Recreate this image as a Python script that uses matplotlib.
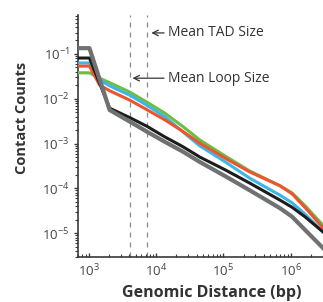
import numpy as np
import matplotlib
matplotlib.use("Agg")
import matplotlib.pyplot as plt
from matplotlib.ticker import LogLocator, NullFormatter

plt.rcParams['font.family'] = ['Open Sans', 'DejaVu Sans']
plt.rcParams['mathtext.fontset'] = 'custom'
plt.rcParams['mathtext.rm'] = 'Open Sans'
plt.rcParams['mathtext.it'] = 'Open Sans:italic'
plt.rcParams['mathtext.bf'] = 'Open Sans:bold'

# log10 of genomic distance (bp)
log_dist = [2.84, 3.01, 3.16, 3.31, 3.61, 3.86, 4.13, 4.40, 4.65, 5.02, 5.39, 5.84, 6.02, 6.21, 6.48]
# log10 of contact counts
gray_vals  = [-0.87, -0.87, -1.56, -2.25, -2.51, -2.73, -2.96, -3.18, -3.41, -3.72, -4.04, -4.44, -4.63, -4.92, -5.33]
black_vals = [-1.09, -1.09, -1.65, -2.21, -2.42, -2.61, -2.85, -3.07, -3.30, -3.58, -3.88, -4.26, -4.42, -4.63, -4.97]
red_vals   = [-1.27, -1.27, -1.69, -1.82, -2.03, -2.24, -2.47, -2.73, -2.99, -3.32, -3.63, -3.94, -4.12, -4.42, -4.88]
blue_vals  = [-1.20, -1.20, -1.58, -1.71, -1.92, -2.14, -2.40, -2.74, -3.05, -3.40, -3.77, -4.15, -4.32, -4.57, -4.97]
green_vals = [-1.42, -1.42, -1.54, -1.64, -1.85, -2.07, -2.32, -2.62, -2.92, -3.27, -3.61, -3.94, -4.10, -4.38, -4.82]

mean_loop_size = 4.1e3
mean_tad_size = 7.3e3

x = 10 ** np.array(log_dist)

fig = plt.figure(figsize=(3.23, 3.02), dpi=100)
ax = fig.add_axes([78/323, 45/302, 1 - 78/323, (257-15)/302])

series = [
    (green_vals, '#6dbd45', 2.2),
    (blue_vals, '#3bb6e6', 2.2),
    (red_vals, '#ee5430', 2.2),
    (black_vals, '#1c1c1c', 2.2),
    (gray_vals, '#707173', 3.0),
]
for vals, col, lw in series:
    ax.plot(x, 10 ** np.array(vals), color=col, lw=lw, solid_joinstyle='round', zorder=3)

for v in (mean_loop_size, mean_tad_size):
    ax.axvline(v, color='#8a8a8a', lw=0.9, ls=(0, (4, 4)), zorder=1)

ax.set_xscale('log')
ax.set_yscale('log')
ax.set_xlim(10 ** 2.84, 10 ** 6.48)
ax.set_ylim(10 ** -5.53, 10 ** -0.13)

for s in ('top', 'right'):
    ax.spines[s].set_visible(False)
for s in ('left', 'bottom'):
    ax.spines[s].set_color('#3a3a3a')
    ax.spines[s].set_linewidth(1.2)

ax.xaxis.set_major_locator(LogLocator(base=10, numticks=10))
ax.yaxis.set_major_locator(LogLocator(base=10, numticks=10))
ax.xaxis.set_minor_locator(LogLocator(base=10, subs=np.arange(2, 10), numticks=10))
ax.yaxis.set_minor_locator(LogLocator(base=10, subs=np.arange(2, 10), numticks=10))
ax.xaxis.set_minor_formatter(NullFormatter())
ax.yaxis.set_minor_formatter(NullFormatter())

ax.tick_params(axis='x', which='major', direction='in', length=3, width=1, colors='#3a3a3a',
               labelcolor='#444444', labelsize=9.5, pad=4)
ax.tick_params(axis='x', which='minor', direction='in', length=2, width=0.8, colors='#3a3a3a')
ax.tick_params(axis='y', which='major', direction='out', length=3, width=1, colors='#3a3a3a',
               labelcolor='#444444', labelsize=9.5, pad=3)
ax.tick_params(axis='y', which='minor', direction='out', length=2, width=0.8, colors='#3a3a3a')

ax.set_xlabel('Genomic Distance (bp)', fontsize=11.5, fontweight='bold', color='#333333')
ax.set_ylabel('Contact Counts', fontsize=10.5, fontweight='bold', color='#333333')
ax.xaxis.set_label_coords((212-78)/(323-78), -(293-257)/(257-15), transform=ax.transAxes)
ax.yaxis.set_label_coords(-(78-22)/(323-78), (257-118)/(257-15), transform=ax.transAxes)
ax.xaxis.label.set_va('center')
ax.yaxis.label.set_va('center')

arrow = dict(arrowstyle='->', color='#333333', lw=0.9, shrinkA=1, shrinkB=0)
ax.annotate('Mean TAD Size', xy=(10 ** 3.93, 10 ** -0.53), xytext=(10 ** 4.18, 10 ** -0.53),
            va='center', ha='left', fontsize=10, color='#333333', arrowprops=arrow)
ax.annotate('Mean Loop Size', xy=(10 ** 3.65, 10 ** -1.54), xytext=(10 ** 4.18, 10 ** -1.54),
            va='center', ha='left', fontsize=10, color='#333333', arrowprops=arrow)

fig.savefig('out.png', dpi=100)
